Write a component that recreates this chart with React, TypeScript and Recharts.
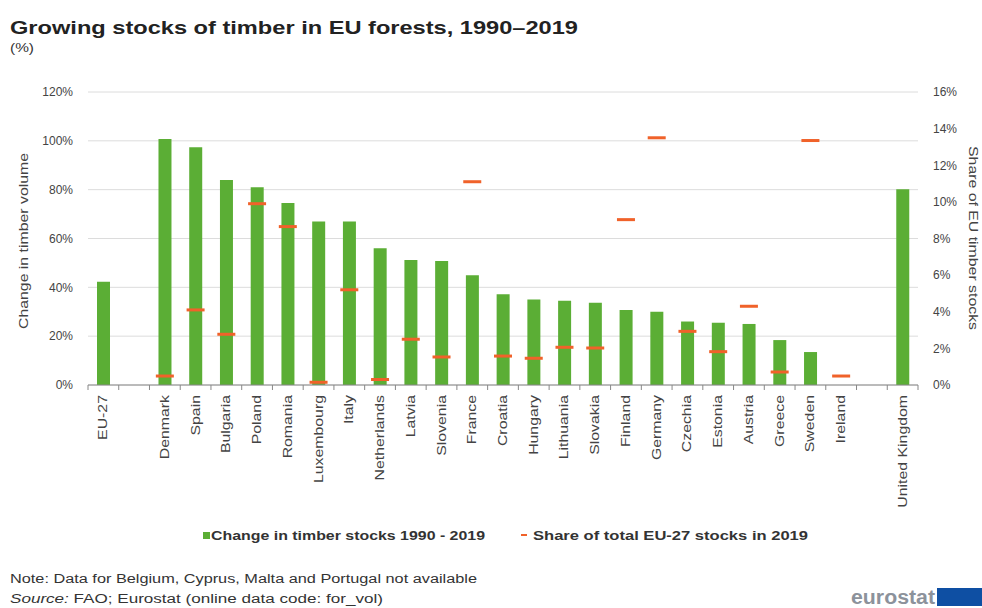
import { ComposedChart, Bar, Line, XAxis, YAxis, CartesianGrid } from 'recharts'

const countries = ['EU-27', '', 'Denmark', 'Spain', 'Bulgaria', 'Poland', 'Romania', 'Luxembourg', 'Italy', 'Netherlands', 'Latvia', 'Slovenia', 'France', 'Croatia', 'Hungary', 'Lithuania', 'Slovakia', 'Finland', 'Germany', 'Czechia', 'Estonia', 'Austria', 'Greece', 'Sweden', 'Ireland', '', 'United Kingdom']
const changeStocks = [42.3, null, 100.7, 97.4, 84, 81, 74.5, 67, 67, 56, 51.2, 50.8, 45, 37.2, 35, 34.5, 33.7, 30.7, 30, 26, 25.5, 25, 18.4, 13.5, null, null, 80.2]
const shareStocks = [null, null, 0.49, 4.1, 2.77, 9.9, 8.65, 0.15, 5.2, 0.3, 2.5, 1.53, 11.1, 1.58, 1.46, 2.06, 2.02, 9.03, 13.5, 2.93, 1.82, 4.3, 0.71, 13.35, 0.49, null, null]
const leftTicks = [0, 20, 40, 60, 80, 100, 120]
const rightTicks = [0, 2, 4, 6, 8, 10, 12, 14, 16]

const data = countries.map((name, i) => ({ name, change: changeStocks[i], share: shareStocks[i] }))

const GREEN = '#5bae35'
const ORANGE = '#f0622a'
const FONT = '"Liberation Sans", Arial, sans-serif'
const BAND = 830 / countries.length
// the source picture is stretched a bit along the text direction
const STRETCH = 1.32

function CountryTick({ x, y, payload, index }: any) {
  const last = index === countries.length - 1
  return (
    <g>
      <line x1={x - BAND / 2} x2={x - BAND / 2} y1={y - 8} y2={y - 3} stroke="#888" />
      {last && <line x1={x + BAND / 2} x2={x + BAND / 2} y1={y - 8} y2={y - 3} stroke="#888" />}
      <text transform={`translate(${x} ${y + 2}) rotate(-90) scale(${STRETCH} 1)`} textAnchor="end" dy={4}
        fontSize={12} fill="#444" fontFamily={FONT}>{payload.value}</text>
    </g>
  )
}

function Dash({ cx, cy }: any) {
  if (cx == null || cy == null || isNaN(cy)) return <g />
  return <rect x={cx - 9} y={cy - 1.5} width={18} height={3} fill={ORANGE} />
}

export default function App() {
  return (
    <div style={{ position: 'fixed', left: 0, top: 0, width: 982, height: 608, background: '#fff', fontFamily: FONT, overflow: 'hidden' }}>
      <ComposedChart width={982} height={608} data={data} margin={{ top: 92, right: 0, left: 0, bottom: 103 }}>
        <CartesianGrid yAxisId="left" vertical={false} stroke="#dcdcdc" />
        <XAxis dataKey="name" height={120} interval={0} tickLine={false} tickSize={0} tickMargin={8}
          axisLine={{ stroke: '#888' }} tick={<CountryTick />} />
        <YAxis yAxisId="left" width={88} domain={[0, 120]} ticks={leftTicks} tickFormatter={(v) => `${v}%`}
          axisLine={false} tickLine={false} tickSize={0} tickMargin={15}
          tick={{ fontSize: 12, fill: '#444', fontFamily: FONT }} />
        <YAxis yAxisId="right" orientation="right" width={64} domain={[0, 16]} ticks={rightTicks} tickFormatter={(v) => `${v}%`}
          axisLine={false} tickLine={false} tickSize={0} tickMargin={15}
          tick={{ fontSize: 12, fill: '#444', fontFamily: FONT, textAnchor: 'start' }} />
        <Bar yAxisId="left" dataKey="change" fill={GREEN} barSize={13} isAnimationActive={false} />
        <Line yAxisId="right" dataKey="share" stroke="none" dot={<Dash />} activeDot={false} isAnimationActive={false} />
      </ComposedChart>
      <svg width={982} height={608} style={{ position: 'absolute', left: 0, top: 0, pointerEvents: 'none' }} fontFamily={FONT}>
        <text x={10} y={34} fontSize={19} fontWeight="bold" fill="#222" textLength={568} lengthAdjust="spacingAndGlyphs">Growing stocks of timber in EU forests, 1990–2019</text>
        <text x={10} y={52} fontSize={13} fill="#333" textLength={24} lengthAdjust="spacingAndGlyphs">(%)</text>
        <text transform={`translate(28 241) rotate(-90) scale(${STRETCH} 1)`} textAnchor="middle" fontSize={12} fill="#444">Change in timber volume</text>
        <text transform={`translate(969 238) rotate(90) scale(${STRETCH} 1)`} textAnchor="middle" fontSize={12} fill="#444">Share of EU timber stocks</text>
        <rect x={203} y={532} width={7} height={7} fill={GREEN} />
        <text x={211} y={540} fontSize={12.5} fontWeight="bold" fill="#333" textLength={274} lengthAdjust="spacingAndGlyphs">Change in timber stocks 1990 - 2019</text>
        <rect x={521} y={534} width={6} height={2} fill={ORANGE} />
        <text x={533} y={540} fontSize={12.5} fontWeight="bold" fill="#333" textLength={275} lengthAdjust="spacingAndGlyphs">Share of total EU-27 stocks in 2019</text>
        <text x={10} y={583} fontSize={12.5} fill="#333" textLength={467} lengthAdjust="spacingAndGlyphs">Note: Data for Belgium, Cyprus, Malta and Portugal not available</text>
        <text x={10} y={603} fontSize={12.5} fill="#333" textLength={373} lengthAdjust="spacingAndGlyphs"><tspan fontStyle="italic">Source:</tspan> FAO; Eurostat (online data code: for_vol)</text>
        <text x={851} y={604} fontSize={20} fontWeight="bold" fill="#8c929b" textLength={84} lengthAdjust="spacingAndGlyphs">eurostat</text>
        <rect x={937} y={588} width={45} height={18} fill="#0e4fa3" />
      </svg>
    </div>
  )
}
